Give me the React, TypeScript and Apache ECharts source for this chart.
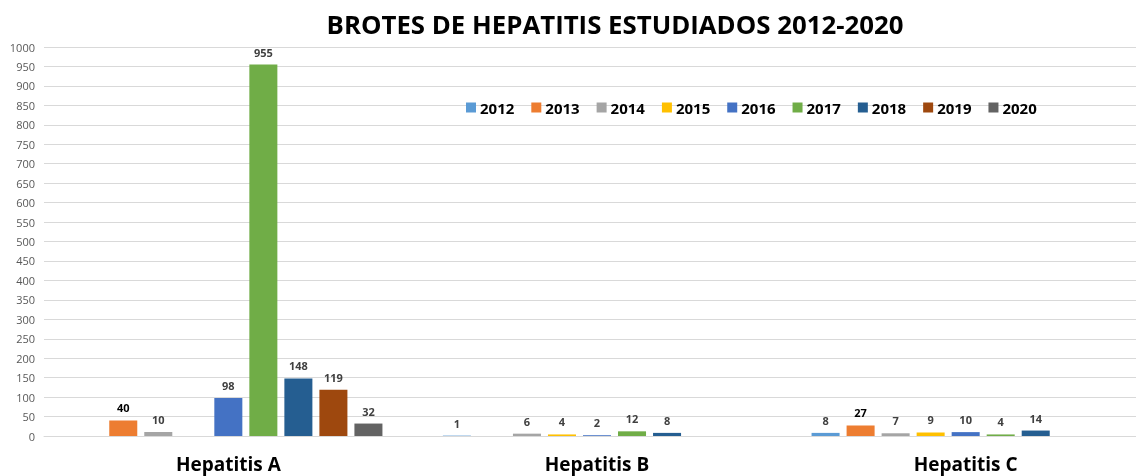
import React, { useEffect, useRef } from "react";
import * as echarts from "echarts";

const categories = ["Hepatitis A", "Hepatitis B", "Hepatitis C"];
const years = ["2012", "2013", "2014", "2015", "2016", "2017", "2018", "2019", "2020"];
const v2012 = [null, 1, 8];
const v2013 = [40, null, 27];
const v2014 = [10, 6, 7];
const v2015 = [null, 4, 9];
const v2016 = [98, 2, 10];
const v2017 = [955, 12, 4];
const v2018 = [148, 8, 14];
const v2019 = [119, null, null];
const v2020 = [32, null, null];
const seriesValues = [v2012, v2013, v2014, v2015, v2016, v2017, v2018, v2019, v2020];
const colors = ["#5B9BD5", "#ED7D31", "#A5A5A5", "#FFC000", "#4472C4", "#70AD47", "#255E91", "#9E480E", "#636363"];
const labelColors = ["#404040", "#000000", "#404040", "#404040", "#404040", "#404040", "#404040", "#404040", "#404040"];

export default function App() {
  const ref = useRef<HTMLDivElement>(null);
  useEffect(() => {
    if (!ref.current) return;
    const chart = echarts.init(ref.current, null, { renderer: "svg" });
    const font = "'Open Sans', 'Liberation Sans', sans-serif";
    chart.setOption({
      animation: false,
      textStyle: { fontFamily: font },
      title: {
        text: "BROTES DE HEPATITIS ESTUDIADOS 2012-2020",
        left: 610,
        top: 6,
        textAlign: "center",
        textStyle: { fontFamily: font, fontSize: 25.8, fontWeight: "bold", color: "#000" },
      },
      legend: {
        data: years,
        left: 461,
        top: 95,
        itemWidth: 10,
        itemHeight: 10,
        itemGap: 17,
        icon: "rect",
        textStyle: { fontFamily: font, fontSize: 15, fontWeight: "bold", color: "#000", padding: [0, 0, 0, -1] },
      },
      grid: { left: 44, right: 0, top: 47, bottom: 40, containLabel: false },
      xAxis: {
        type: "category",
        data: categories,
        axisLine: { lineStyle: { color: "#d9d9d9" } },
        axisTick: { show: false },
        axisLabel: { fontFamily: font, fontSize: 19, fontWeight: "bold", color: "#000", margin: 18 },
      },
      yAxis: {
        type: "value",
        min: 0,
        max: 1000,
        interval: 50,
        axisLine: { show: false },
        axisTick: { show: false },
        splitLine: { lineStyle: { color: "#d9d9d9" } },
        axisLabel: { fontFamily: font, fontSize: 11, color: "#595959", margin: 9, formatter: (v: number) => String(v) },
      },
      series: years.map((y, i) => ({
        name: y,
        type: "bar",
        data: seriesValues[i],
        barGap: "25%",
        barCategoryGap: "16.4%",
        itemStyle: { color: colors[i] },
        label: {
          show: true,
          position: "top",
          distance: 7,
          fontFamily: font,
          fontSize: 11,
          fontWeight: "bold",
          color: labelColors[i],
        },
      })),
    });
    return () => chart.dispose();
  }, []);
  return (
    <div style={{ position: "fixed", left: 0, top: 0, width: 1136, height: 476, overflow: "hidden" }}>
      <div ref={ref} style={{ width: 1150, height: 476 }} />
    </div>
  );
}
